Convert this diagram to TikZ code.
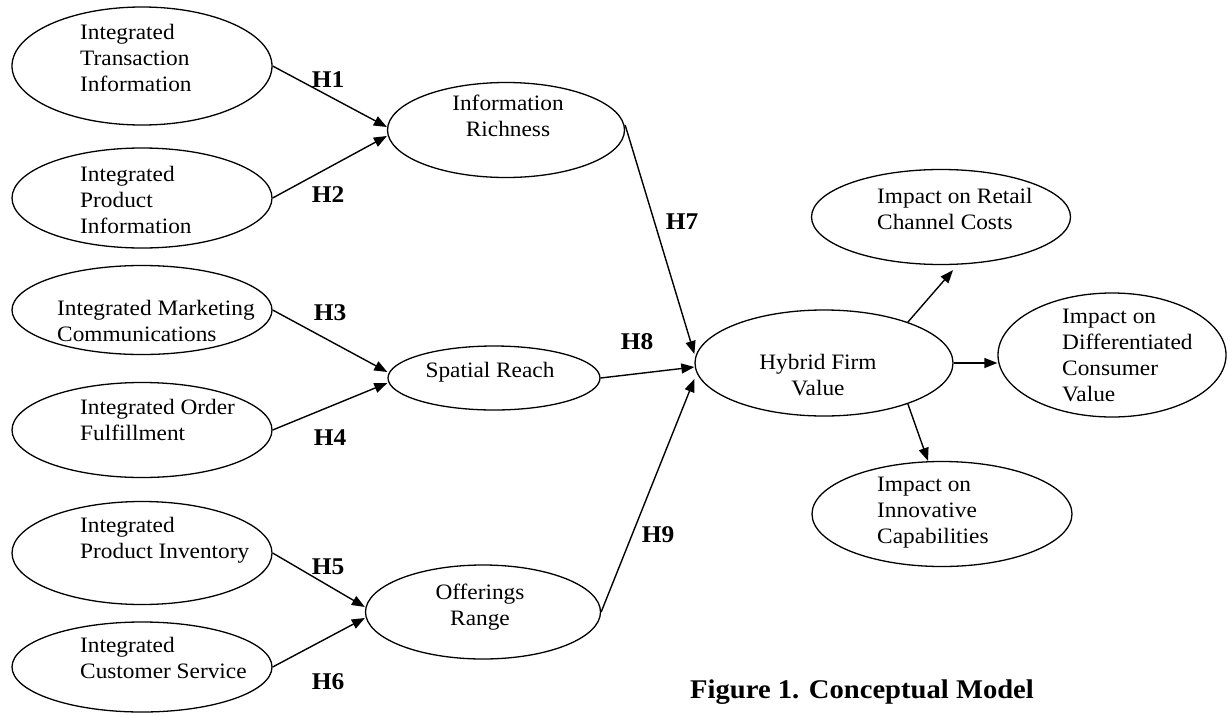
\documentclass[tikz,border=0pt]{standalone}
\usepackage{fontspec}
\setmainfont{Liberation Serif}[FakeStretch=1.06]
\usetikzlibrary{shapes.geometric,arrows.meta}
\begin{document}
\begin{tikzpicture}[x=1pt,y=-1pt,
  ell/.style={ellipse,draw,line width=1.3pt,inner sep=0pt},
  lbl/.style={align=left,inner sep=0pt,font=\fontsize{22}{26}\selectfont},
  clbl/.style={align=center,inner sep=0pt,font=\fontsize{22}{26}\selectfont},
  hyp/.style={inner sep=0pt,font=\fontsize{24}{28}\selectfont\bfseries},
  arr/.style={line width=1.4pt,-{Triangle[length=13pt,width=10pt]}}]
\useasboundingbox (0,0) rectangle (1228,715);

% left column
\node[ell,minimum width=260pt,minimum height=118pt] (e1) at (142,66) {};
\node[lbl,anchor=west] (t1) at (80,58) {Integrated\\Transaction\\Information};
\node[ell,minimum width=260pt,minimum height=100pt] (e2) at (142,198) {};
\node[lbl,anchor=west] (t2) at (80,200) {Integrated\\Product\\Information};
\node[ell,minimum width=260pt,minimum height=89pt] (e3) at (142,310) {};
\node[lbl,anchor=west] (t3) at (57,321) {Integrated Marketing\\Communications};
\node[ell,minimum width=260pt,minimum height=95pt] (e4) at (142,430) {};
\node[lbl,anchor=west] (t4) at (80,420) {Integrated Order\\Fulfillment};
\node[ell,minimum width=260pt,minimum height=103pt] (e5) at (142,553) {};
\node[lbl,anchor=west] (t5) at (80,540) {Integrated\\Product Inventory};
\node[ell,minimum width=260pt,minimum height=90pt] (e6) at (142,667) {};
\node[lbl,anchor=west] (t6) at (80,658) {Integrated\\Customer Service};

% middle column
\node[ell,minimum width=237pt,minimum height=95pt] (ir) at (506,130) {};
\node[clbl] (tir) at (508,116) {Information\\Richness};
\node[ell,minimum width=212pt,minimum height=64pt] (sr) at (494,378) {};
\node[clbl] (tsr) at (490,372) {Spatial Reach};
\node[ell,minimum width=235pt,minimum height=94pt] (or) at (483,612) {};
\node[clbl] (tor) at (480,607) {Offerings\\Range};

% right side
\node[ell,minimum width=258pt,minimum height=106pt] (hfv) at (824,363) {};
\node[clbl] (thfv) at (818,375) {Hybrid Firm\\Value};
\node[ell,minimum width=259pt,minimum height=95pt] (rc) at (941,217) {};
\node[lbl,anchor=west] (trc) at (877,209) {Impact on Retail\\Channel Costs};
\node[ell,minimum width=228pt,minimum height=124pt] (dv) at (1112,355) {};
\node[lbl,anchor=west] (tdv) at (1062,355) {Impact on\\Differentiated\\Consumer\\Value};
\node[ell,minimum width=260pt,minimum height=105pt] (ic) at (942,514) {};
\node[lbl,anchor=west] (tic) at (877,513) {Impact on\\Innovative\\Capabilities};

% arrows
\draw[arr] (e1.east) -- ([yshift=3pt]ir.west);
\draw[arr] (e2.east) -- ([yshift=-6pt]ir.west);
\draw[arr] (e3.east) -- ([yshift=6pt]sr.west);
\draw[arr] (e4.east) -- ([yshift=-5pt]sr.west);
\draw[arr] (e5.east) -- ([yshift=5pt]or.west);
\draw[arr] (e6.east) -- ([yshift=-6pt]or.west);
\draw[arr] ([yshift=5pt]ir.east) -- ([yshift=9pt]hfv.west);
\draw[arr] (sr.east) -- ([yshift=-4pt]hfv.west);
\draw[arr] (or.east) -- ([yshift=-16pt]hfv.west);
\draw[arr] (hfv.26) -- ([xshift=12pt,yshift=-5pt]rc.south);
\draw[arr] (hfv.east) -- (hfv.east -| dv.west);
\draw[arr] (hfv.-26) -- ([xshift=-14pt]ic.north);

% hypothesis labels
\node[hyp] (h1) at (328,80) {H1};
\node[hyp] (h2) at (328,195) {H2};
\node[hyp] (h3) at (330,313) {H3};
\node[hyp] (h4) at (330,438) {H4};
\node[hyp] (h5) at (328,567) {H5};
\node[hyp] (h6) at (328,682) {H6};
\node[hyp] (h7) at (682,222) {H7};
\node[hyp] (h8) at (637,342) {H8};
\node[hyp] (h9) at (658,535) {H9};

% caption
\node[anchor=west,inner sep=0pt,font=\fontsize{27}{30}\selectfont\bfseries] (cap) at (690,692) {Figure 1. Conceptual Model};
\end{tikzpicture}
\end{document}
